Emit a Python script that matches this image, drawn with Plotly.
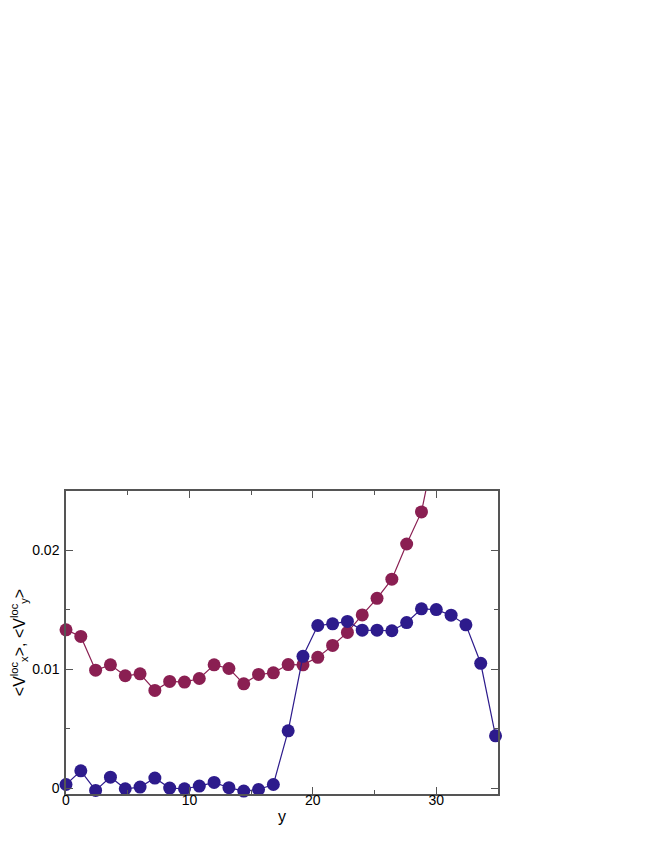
import plotly.graph_objects as go

step = 1.2
n_points = 30
x_vals = [round(i * step, 2) for i in range(n_points)]

vy_red = [0.01332, 0.01276, 0.00992, 0.01037, 0.00945, 0.00961, 0.00822, 0.00897,
          0.00892, 0.00922, 0.01037, 0.01006, 0.00877, 0.00956, 0.00970, 0.01039,
          0.01037, 0.01100, 0.01200, 0.01310, 0.01457, 0.01597, 0.01758, 0.02054,
          0.02324, 0.02930]
vx_blue = [0.00030, 0.00145, -0.00020, 0.00092, -0.00006, 0.00008, 0.00084, 0.00000,
           -0.00006, 0.00017, 0.00047, 0.00003, -0.00025, -0.00012, 0.00030, 0.00482,
           0.01109, 0.01368, 0.01382, 0.01402, 0.01329, 0.01329, 0.01324, 0.01393,
           0.01508, 0.01502, 0.01455, 0.01374, 0.01050, 0.00440]

x_ticks = [0, 10, 20, 30]
x_tick_labels = ["0", "10", "20", "30"]
y_ticks = [0, 0.01, 0.02]
y_tick_labels = ["0", "0.01", "0.02"]

x_range = [0, 35]
y_range = [-0.0005, 0.025]

red = "#8a1f52"
blue = "#2d1b8c"

fig = go.Figure()

def add_series(xs, ys, color):
    fig.add_trace(go.Scatter(x=xs, y=ys, mode="lines",
                             line=dict(color=color, width=1.2),
                             showlegend=False, hoverinfo="skip"))
    mx = [a for a, b in zip(xs, ys) if y_range[0] <= b <= y_range[1]]
    my = [b for b in ys if y_range[0] <= b <= y_range[1]]
    fig.add_trace(go.Scatter(x=mx, y=my, mode="markers",
                             marker=dict(color=color, size=13, line=dict(width=0)),
                             cliponaxis=False, showlegend=False))

add_series(x_vals[:len(vy_red)], vy_red, red)
add_series(x_vals, vx_blue, blue)

font_family = "Liberation Sans, Arial, sans-serif"
axis_common = dict(
    showgrid=False, zeroline=False, showline=True, linecolor="#555555", linewidth=1.5,
    mirror="ticks", ticks="inside", ticklen=7, tickwidth=1, tickcolor="#555555",
    tickfont=dict(family=font_family, size=14, color="black"),
    automargin=False,
)

fig.update_xaxes(range=x_range, tickvals=x_ticks, ticktext=x_tick_labels,
                 ticklabelstandoff=-8,
                 minor=dict(dtick=5, tick0=0, ticks="inside", ticklen=4, tickcolor="#555555"),
                 title=dict(text="y", font=dict(family=font_family, size=16, color="black"),
                            standoff=4),
                 **axis_common)
fig.update_yaxes(range=y_range, tickvals=y_ticks, ticktext=y_tick_labels,
                 ticklabelstandoff=2,
                 minor=dict(dtick=0.005, tick0=0, ticks="inside", ticklen=4, tickcolor="#555555"),
                 title=dict(text="<V<sup>loc</sup><sub>x</sub>>, <V<sup>loc</sup><sub>y</sub>>",
                            font=dict(family=font_family, size=16, color="black"),
                            standoff=3),
                 **axis_common)

fig.update_layout(
    width=664, height=860,
    margin=dict(l=58, r=174, t=483, b=74),
    plot_bgcolor="white", paper_bgcolor="white",
    showlegend=False,
)

fig.write_html("out.html")
